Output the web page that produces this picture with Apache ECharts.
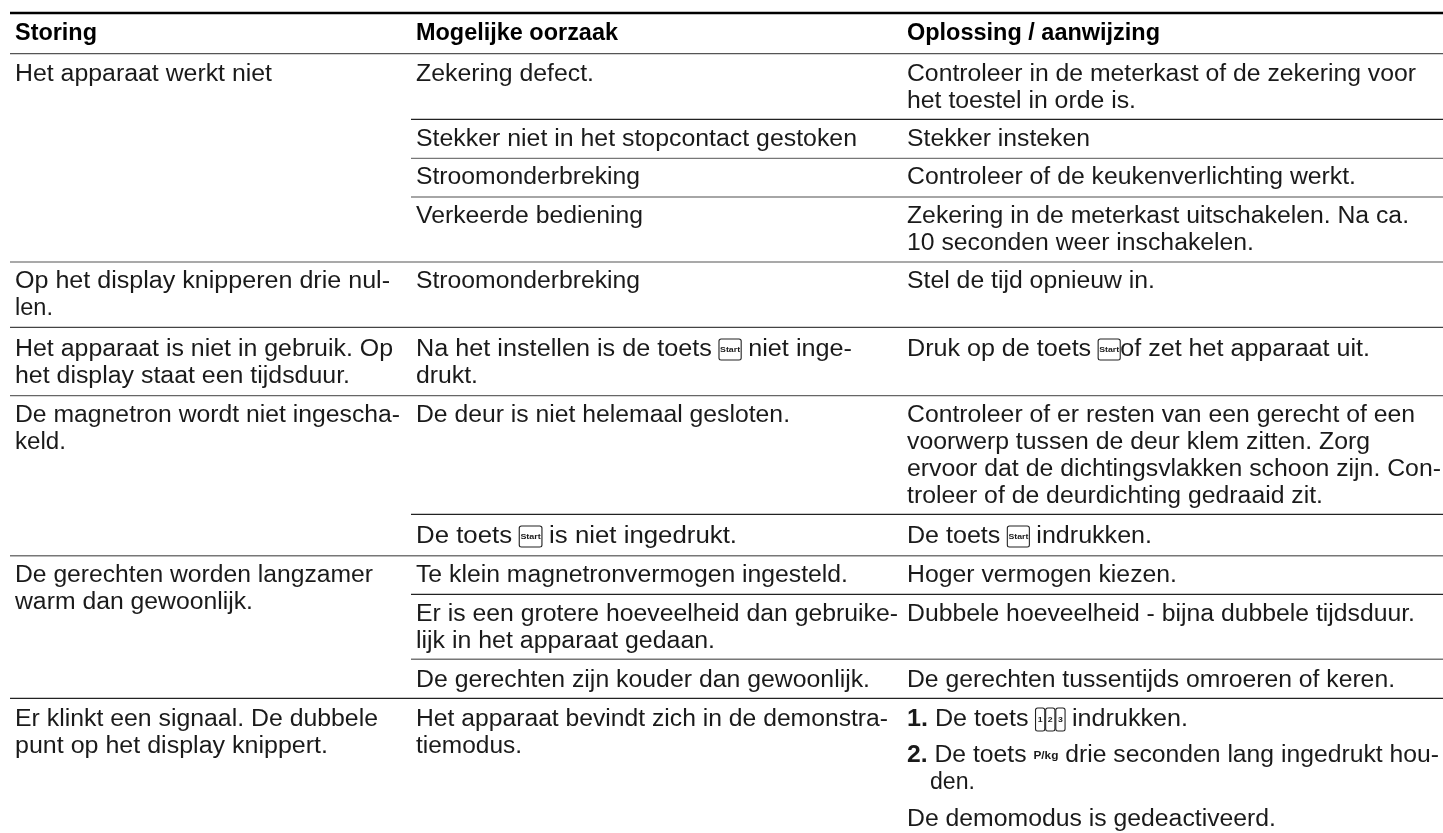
<!DOCTYPE html>
<html>
<head>
<meta charset="utf-8">
<style>
  html, body { margin: 0; padding: 0; background: #fff; }
  #main { width: 1443px; height: 833px; }
</style>
<script src="https://cdn.jsdelivr.net/npm/echarts@6/dist/echarts.min.js"></script>
</head>
<body>
<div id="main"></div>
<script>
  // table text, {start|Start} and friends are the inline key icons
  const headers = ['Storing', 'Mogelijke oorzaak', 'Oplossing / aanwijzing'];
  const storing = [
    ['Het apparaat werkt niet'],
    ['Op het display knipperen drie nul-', 'len.'],
    ['Het apparaat is niet in gebruik. Op', 'het display staat een tijdsduur.'],
    ['De magnetron wordt niet ingescha-', 'keld.'],
    ['De gerechten worden langzamer', 'warm dan gewoonlijk.'],
    ['Er klinkt een signaal. De dubbele', 'punt op het display knippert.']
  ];
  const oorzaak = [
    ['Zekering defect.'],
    ['Stekker niet in het stopcontact gestoken'],
    ['Stroomonderbreking'],
    ['Verkeerde bediening'],
    ['Stroomonderbreking'],
    ['Na het instellen is de toets {start|Start} niet inge-', 'drukt.'],
    ['De deur is niet helemaal gesloten.'],
    ['De toets {start|Start} is niet ingedrukt.'],
    ['Te klein magnetronvermogen ingesteld.'],
    ['Er is een grotere hoeveelheid dan gebruike-', 'lijk in het apparaat gedaan.'],
    ['De gerechten zijn kouder dan gewoonlijk.'],
    ['Het apparaat bevindt zich in de demonstra-', 'tiemodus.']
  ];
  const oplossing = [
    ['Controleer in de meterkast of de zekering voor', 'het toestel in orde is.'],
    ['Stekker insteken'],
    ['Controleer of de keukenverlichting werkt.'],
    ['Zekering in de meterkast uitschakelen. Na ca.', '10 seconden weer inschakelen.'],
    ['Stel de tijd opnieuw in.'],
    ['Druk op de toets {start|Start}of zet het apparaat uit.'],
    ['Controleer of er resten van een gerecht of een', 'voorwerp tussen de deur klem zitten. Zorg', 'ervoor dat de dichtingsvlakken schoon zijn. Con-', 'troleer of de deurdichting gedraaid zit.'],
    ['De toets {start|Start} indrukken.'],
    ['Hoger vermogen kiezen.'],
    ['Dubbele hoeveelheid - bijna dubbele tijdsduur.'],
    ['De gerechten tussentijds omroeren of keren.'],
    ['{num|1.} De toets {key|1}{gap| }{key|2}{gap| }{key|3} indrukken.'],
    ['{num|2.} De toets {pkg|P/kg} drie seconden lang ingedrukt hou-', 'den.'],
    ['De demomodus is gedeactiveerd.']
  ];

  // layout, in page pixels: baseline of each cell's first line, right end of each text line
  const colX = [15, 416, 907];
  const headerEnds = [97, 618, 1160];
  const storingBase = [81, 288.5, 356, 422, 582, 726];
  const oorzaakBase = [81, 146, 184.5, 223, 288.5, 356, 422, 543, 582, 621, 687, 726];
  const oplossingBase = [81, 146, 184.5, 223, 288.5, 356, 422, 543, 582, 621, 687, 726, 762, 826];
  const storingEnds = [[272], [390, 53], [393, 350], [400, 66], [373, 253], [378, 328]];
  const oorzaakEnds = [[594], [857], [640], [643], [640], [852, 478], [790], [737], [848], [898, 715], [870], [888, 522]];
  const oplossingEnds = [[1416, 1136], [1090], [1356], [1409, 1254], [1155], [1370], [1415, 1370, 1441, 1323], [1152], [1177], [1415], [1395], [1188], [1439, 975], [1276]];
  const hangingStart = { 'den.': 930 };
  const lineHeight = 27;
  const baseToMiddle = 6.5;

  // [from x, y, width, colour]
  const rules = [
    [10, 13, 2.6, '#000000'],
    [10, 53.7, 1.2, '#555555'],
    [411, 119.3, 1.2, '#222222'],
    [411, 158.3, 1.2, '#777777'],
    [411, 197, 1.6, '#888888'],
    [10, 262, 1.2, '#555555'],
    [10, 327.3, 1.2, '#444444'],
    [10, 395.6, 1.2, '#666666'],
    [411, 514.3, 1.2, '#222222'],
    [10, 555.7, 1.4, '#777777'],
    [411, 594.3, 1.2, '#222222'],
    [411, 659.3, 1.4, '#777777'],
    [10, 698.3, 1.2, '#222222']
  ];
  const tableRight = 1443;

  const textColor = '#1a1a1a';
  const fontFamily = '"Liberation Sans", Arial, sans-serif';
  const bodySize = 23;

  const keyStyle = {
    fontSize: 8,
    fontWeight: 'bold',
    fontFamily: fontFamily,
    color: '#222',
    borderColor: '#222',
    borderWidth: 1,
    borderRadius: 2
  };
  const richStyles = {
    start: { ...keyStyle, padding: [7, 1, 6, 1] },
    key: { ...keyStyle, padding: [8, 2, 7, 2] },
    gap: { fontSize: 3, fontFamily: fontFamily },
    pkg: { fontSize: 11, fontWeight: 'bold', fontFamily: fontFamily, color: '#222' },
    num: { fontSize: bodySize, fontWeight: 'bold', fontFamily: fontFamily, color: '#000' }
  };

  const textStyle = (text, bold) => ({
    text: text,
    rich: richStyles,
    fontSize: bodySize,
    fontWeight: bold ? 'bold' : 'normal',
    fontFamily: fontFamily,
    fill: bold ? '#000000' : textColor,
    verticalAlign: 'middle',
    align: 'left'
  });

  // lines are stretched to the width they have in the picture
  const fitScale = (text, bold, x, end) => {
    const w = new echarts.graphic.Text({ style: textStyle(text, bold) }).getBoundingRect().width;
    return (end - x) / w;
  };

  const textData = [];
  headers.forEach((h, i) => {
    textData.push([colX[i], 40 - baseToMiddle, h, 1, fitScale(h, true, colX[i], headerEnds[i])]);
  });
  const addColumn = (cells, bases, ends, x) => {
    cells.forEach((lines, r) => {
      lines.forEach((line, l) => {
        const start = hangingStart[line] || x;
        textData.push([start, bases[r] + l * lineHeight - baseToMiddle, line, 0, fitScale(line, false, start, ends[r][l])]);
      });
    });
  };
  addColumn(storing, storingBase, storingEnds, colX[0]);
  addColumn(oorzaak, oorzaakBase, oorzaakEnds, colX[1]);
  addColumn(oplossing, oplossingBase, oplossingEnds, colX[2]);

  const myChart = echarts.init(document.getElementById('main'), null, { renderer: 'canvas' });
  const option = {
    animation: false,
    backgroundColor: '#ffffff',
    grid: { left: 0, right: 0, top: 0, bottom: 0 },
    xAxis: { type: 'value', min: 0, max: 1443, show: false },
    yAxis: { type: 'value', min: 0, max: 833, inverse: true, show: false },
    series: [
      {
        type: 'custom',
        silent: true,
        clip: false,
        data: rules,
        renderItem: (params, api) => {
          const d = rules[params.dataIndex];
          const a = api.coord([d[0], d[1]]);
          const b = api.coord([tableRight, d[1]]);
          return {
            type: 'line',
            shape: { x1: a[0], y1: a[1], x2: b[0], y2: b[1] },
            style: { stroke: d[3], lineWidth: d[2] }
          };
        }
      },
      {
        type: 'custom',
        silent: true,
        clip: false,
        data: textData,
        dimensions: ['x', 'y', 'text', 'bold', 'scale'],
        renderItem: (params, api) => {
          const d = textData[params.dataIndex];
          const p = api.coord([d[0], d[1]]);
          return {
            type: 'text',
            x: p[0],
            y: p[1],
            scaleX: d[4],
            style: textStyle(d[2], d[3])
          };
        }
      }
    ]
  };
  option && myChart.setOption(option);
</script>
</body>
</html>
